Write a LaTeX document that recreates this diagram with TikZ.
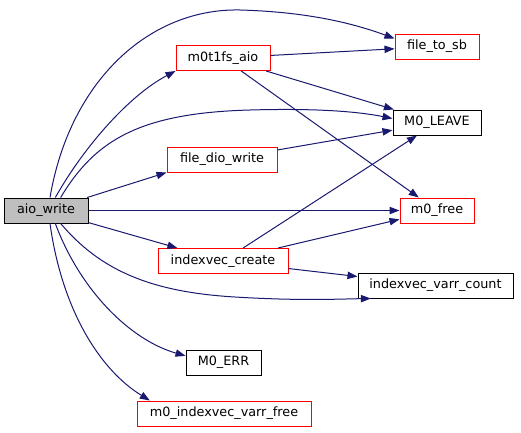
\documentclass[tikz,border=0pt]{standalone}
\usepackage{fontspec}
\setmainfont{DejaVu Sans}
\usetikzlibrary{arrows.meta}
\definecolor{edgeblue}{HTML}{191970}
\definecolor{boxred}{HTML}{FF0000}
\definecolor{boxgray}{HTML}{BFBFBF}
\begin{document}
\begin{tikzpicture}[x=0.75pt,y=-0.75pt,
  fn/.style={draw=black,line width=0.75pt,fill=white,inner sep=0pt,minimum height=18.75pt,
    font=\fontsize{9.6pt}{11pt}\selectfont,text=black},
  redfn/.style={fn,draw=boxred},
  call/.style={draw=edgeblue,line width=0.75pt,-{Triangle[length=7.5pt,width=5.5pt]},fill=none}]
\useasboundingbox (0,0) rectangle (521,432);
% nodes
\node[fn,fill=boxgray,minimum width=63pt] (aio) at (46,210.5) {aio\_write};
\node[redfn,minimum width=70.5pt] (mfa) at (223,58) {m0t1fs\_aio};
\node[redfn,minimum width=63pt] (fts) at (437,46.5) {file\_to\_sb};
\node[fn,minimum width=66pt] (leave) at (437,122.5) {M0\_LEAVE};
\node[redfn,minimum width=82.5pt] (fdw) at (222,159.5) {file\_dio\_write};
\node[redfn,minimum width=55.5pt] (free) at (437,210.5) {m0\_free};
\node[redfn,minimum width=97.5pt] (ivc) at (223,261) {indexvec\_create};
\node[fn,minimum width=116.25pt] (ivvc) at (435.5,285.5) {indexvec\_varr\_count};
\node[fn,minimum width=56.25pt] (err) at (223.5,362.5) {M0\_ERR};
\node[redfn,minimum width=130.5pt] (ivvf) at (224,413.5) {m0\_indexvec\_varr\_free};
% edges from aio_write
\draw[call] ([xshift=3pt]aio.north) .. controls (70,80) and (150,8) .. (240,10)
  .. controls (310,12) and (355,24) .. ([yshift=6pt]fts.west);
\draw[call] ([xshift=7pt]aio.north) .. controls (85,145) and (130,95) .. (mfa.south west);
\draw[call] ([xshift=11pt]aio.north) .. controls (95,140) and (140,113) .. (250,110)
  .. controls (320,108) and (360,112) .. ([yshift=3pt]leave.west);
\draw[call] (aio) -- (fdw.south west);
\draw[call] (aio) -- (free);
\draw[call] (aio) -- (ivc);
\draw[call] ([xshift=11pt]aio.south) .. controls (100,270) and (150,292) .. (235,297)
  .. controls (300,301) and (340,299) .. ([xshift=10pt]ivvc.south west);
\draw[call] ([xshift=7pt]aio.south) .. controls (80,290) and (130,340) .. ([yshift=5pt]err.west);
\draw[call] ([xshift=3pt]aio.south) .. controls (62,310) and (100,370) .. ([xshift=10pt]ivvf.north west);
% other edges
\draw[call] (mfa) -- (fts);
\draw[call] (mfa) -- (leave);
\draw[call] (mfa) -- (free);
\draw[call] (fdw) -- (leave);
\draw[call] (ivc) -- (leave);
\draw[call] (ivc) -- (free);
\draw[call] (ivc) -- (ivvc);
\end{tikzpicture}
\end{document}
